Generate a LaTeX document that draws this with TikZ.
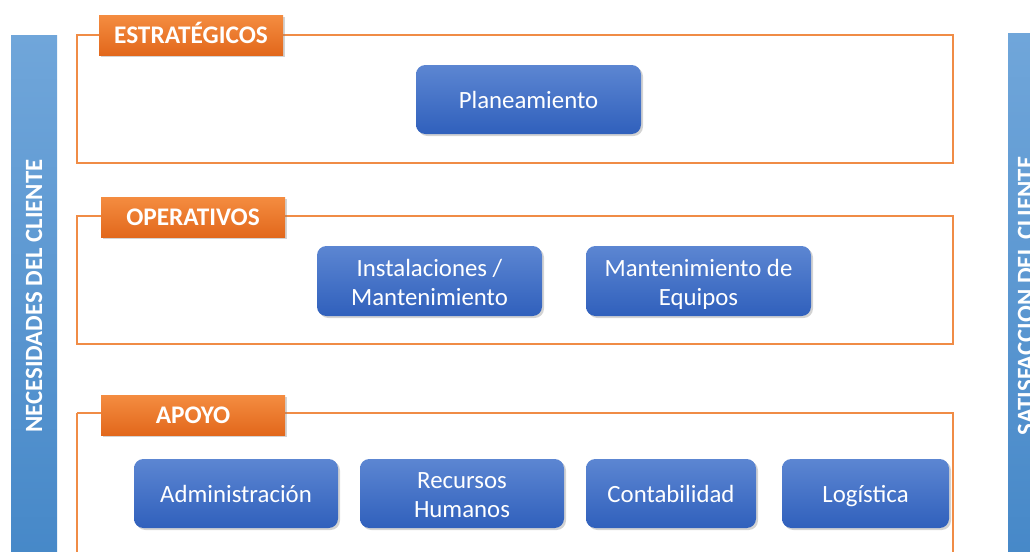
\documentclass[tikz,border=0pt]{standalone}
\usepackage{fontspec}
\setmainfont{Carlito}
\usetikzlibrary{shadows}
\definecolor{frameor}{RGB}{240,140,70}
\definecolor{tabtop}{RGB}{244,140,64}
\definecolor{tabbot}{RGB}{226,104,28}
\definecolor{boxtop}{RGB}{92,134,210}
\definecolor{boxbot}{RGB}{48,96,188}
\definecolor{bartop}{RGB}{112,166,218}
\definecolor{barbot}{RGB}{70,136,200}
\tikzset{
  px/.style={x=0.75pt,y=-0.75pt},
  sidebar/.style={draw=none,top color=bartop,bottom color=barbot},
  sidetext/.style={text=white,font=\bfseries\fontsize{18.6}{22}\selectfont,rotate=90},
  frame/.style={draw=frameor,line width=0.9pt},
  tab/.style={draw=none,top color=tabtop,bottom color=tabbot,
    drop shadow={opacity=0.35,shadow xshift=1.5pt,shadow yshift=-1.5pt}},
  tabtext/.style={text=white,font=\bfseries\fontsize{19}{22}\selectfont,yshift=-1.8pt},
  proc/.style={draw=none,rounded corners=7pt,top color=boxtop,bottom color=boxbot,
    drop shadow={opacity=0.35,shadow xshift=1.5pt,shadow yshift=-1.5pt}},
  proctext/.style={text=white,font=\fontsize{18.6}{22}\selectfont,align=center,yshift=-2.2pt},
}
\begin{document}
\begin{tikzpicture}[px]
\useasboundingbox (0,0) rectangle (1030,551);
\clip (0,0) rectangle (1030,551);
% side bars
\path[sidebar] (11,35) rectangle (57,560);
\node[sidetext] (nec) at (34,296) {NECESIDADES DEL CLIENTE};
\path[sidebar] (1008,33) rectangle (1045,560);
\node[sidetext] (sat) at (1026,296) {SATISFACCION DEL CLIENTE};
% frames
\draw[frame] (77,35) rectangle (953,163);
\draw[frame] (77,216) rectangle (953,344);
\draw[frame] (77,413) -- (77,560);
\draw[frame] (77,413) -- (953,413) -- (953,560);
% tabs
\path[tab] (99,15) rectangle (283,55);
\node[tabtext] (t1) at (191,35) {\strut ESTRATÉGICOS};
\path[tab] (101,197) rectangle (285,237);
\node[tabtext] (t2) at (193,217) {\strut OPERATIVOS};
\path[tab] (101,395) rectangle (285,435);
\node[tabtext] (t3) at (193,415) {\strut APOYO};
% process boxes
\path[proc] (416,65) rectangle (641,134);
\node[proctext] (plan) at (528.5,99.5) {\strut Planeamiento};
\path[proc] (317,246) rectangle (542,316);
\node[proctext] (inst) at (429.5,282) {\strut Instalaciones /\\\strut Mantenimiento};
\path[proc] (586,246) rectangle (811,316);
\node[proctext] (meq) at (698.5,282) {\strut Mantenimiento de\\\strut Equipos};
\path[proc] (134,459) rectangle (338,528);
\node[proctext] (adm) at (236,493.5) {\strut Administración};
\path[proc] (360,459) rectangle (564,528);
\node[proctext] (rrhh) at (462,494) {\strut Recursos\\\strut Humanos};
\path[proc] (586,459) rectangle (756,528);
\node[proctext] (cont) at (671,493.5) {\strut Contabilidad};
\path[proc] (782,459) rectangle (949,528);
\node[proctext] (log) at (865.5,493.5) {\strut Logística};
\end{tikzpicture}
\end{document}
